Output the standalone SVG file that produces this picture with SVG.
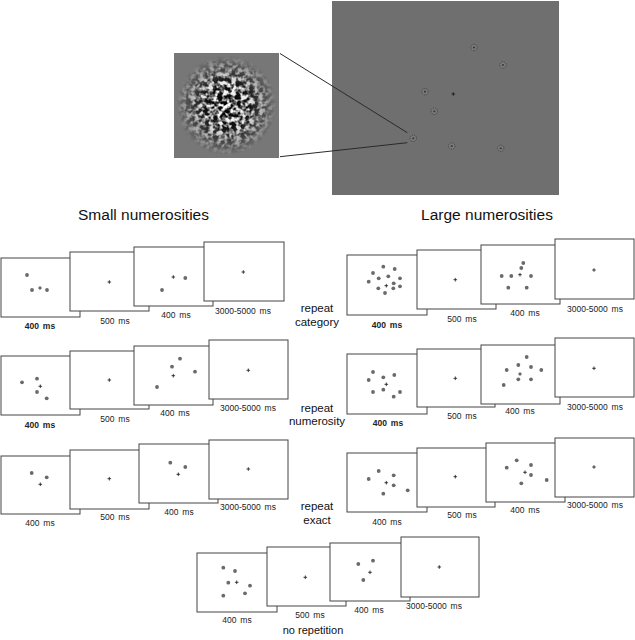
<svg xmlns="http://www.w3.org/2000/svg" xmlns:xlink="http://www.w3.org/1999/xlink" width="635" height="640" viewBox="0 0 635 640">
<style>
.fr{fill:#fff;stroke:#444;stroke-width:1}
.dt{fill:#6a6a6a}
.fx{stroke:#111;stroke-width:0.8;fill:none}
.lb{font-family:"Liberation Sans",Arial,sans-serif;font-size:8.5px;fill:#222;text-anchor:middle;word-spacing:1.5px}
.lbb{font-weight:bold}
.cond{font-family:"Liberation Sans",Arial,sans-serif;font-size:11.5px;fill:#111;text-anchor:middle}
.hd{font-family:"Liberation Sans",Arial,sans-serif;font-size:15.5px;fill:#111;text-anchor:middle}
.con{stroke:#2a2a2a;stroke-width:1;fill:none}
</style>
<defs>
<path id="x" class="fx" d="M-1.8,0H1.8M0,-1.8V1.8"/>
<circle id="d" class="dt" r="1.9"/>
<g id="blob">
<circle r="3.2" fill="#7a7a7a" stroke="#3a3a3a" stroke-width="0.8" stroke-dasharray="1.3 0.9"/>
<circle r="1.1" fill="#3a3a3a"/>
</g>
<radialGradient id="fade" cx="0.5" cy="0.5" r="0.5">
<stop offset="0" stop-color="#fff" stop-opacity="1"/>
<stop offset="0.45" stop-color="#fff" stop-opacity="0.85"/>
<stop offset="1" stop-color="#fff" stop-opacity="0"/>
</radialGradient>
<filter id="noise" x="174" y="53" width="105" height="105" filterUnits="userSpaceOnUse" color-interpolation-filters="sRGB">
<feTurbulence type="fractalNoise" baseFrequency="0.22" numOctaves="2" seed="11" result="n"/>
<feColorMatrix in="n" type="matrix" values="3.4 0 0 0 -1.28  3.4 0 0 0 -1.28  3.4 0 0 0 -1.28  0 0 0 0 1" result="g"/>
<feComposite in="g" in2="SourceGraphic" operator="in"/>
</filter>
</defs>

<g id="stimulus-display">
<rect x="332" y="1" width="227" height="194" fill="#6f6f6f"/>
<use href="#blob" x="474" y="47.5"/>
<use href="#blob" x="503" y="65"/>
<use href="#blob" x="425" y="91.7"/>
<use href="#blob" x="434.3" y="111.3"/>
<use href="#blob" x="413.3" y="138.3"/>
<use href="#blob" x="451.7" y="146"/>
<use href="#blob" x="500.7" y="148.3"/>
<use href="#x" x="453.3" y="94"/>
</g>

<g id="patch-inset">
<rect x="174" y="53" width="105" height="105" fill="#777"/>
<circle cx="226.5" cy="105.5" r="50" fill="url(#fade)" filter="url(#noise)"/>
</g>

<g id="connectors">
<line class="con" x1="280" y1="53.5" x2="407.3" y2="132.7"/>
<line class="con" x1="280" y1="156.7" x2="407.3" y2="142.7"/>
</g>

<g id="headings">
<text class="hd" x="143.5" y="219.5">Small numerosities</text>
<text class="hd" x="487" y="219.5">Large numerosities</text>
</g>

<g id="condition-labels">
<text class="cond" x="317" y="312">repeat</text>
<text class="cond" x="317" y="326">category</text>
<text class="cond" x="317" y="412">repeat</text>
<text class="cond" x="317" y="425">numerosity</text>
<text class="cond" x="317" y="510">repeat</text>
<text class="cond" x="317" y="524">exact</text>
<text class="cond" x="313" y="634" style="font-size:11px">no repetition</text>
</g>

<!-- Small, repeat category -->
<g id="small-category">
<g id="sc-f1"><rect class="fr" x="1" y="258" width="79" height="59"/>
<use href="#d" x="27" y="275"/><use href="#d" x="32" y="290"/><use href="#d" x="47" y="290"/><use href="#x" x="40" y="288"/></g>
<g id="sc-f2"><rect class="fr" x="70" y="252" width="79" height="59"/><use href="#x" x="109.3" y="282"/></g>
<g id="sc-f3"><rect class="fr" x="134" y="247" width="79" height="59"/>
<use href="#d" x="162" y="290"/><use href="#d" x="185.3" y="278"/><use href="#x" x="173.3" y="277"/></g>
<g id="sc-f4"><rect class="fr" x="204" y="242" width="80" height="59"/><use href="#x" x="243.3" y="272"/></g>
<text class="lb lbb" x="40" y="329">400 ms</text>
<text class="lb" x="115" y="324">500 ms</text>
<text class="lb" x="176" y="318">400 ms</text>
<text class="lb" x="243" y="314">3000-5000 ms</text>
</g>

<!-- Small, repeat numerosity -->
<g id="small-numerosity">
<g id="sn-f1"><rect class="fr" x="1" y="356" width="79" height="59"/>
<use href="#d" x="22" y="382.3"/><use href="#d" x="37" y="378.7"/><use href="#d" x="37" y="392"/><use href="#d" x="46.7" y="398.3"/><use href="#x" x="40.3" y="386.3"/></g>
<g id="sn-f2"><rect class="fr" x="70" y="351" width="79" height="58"/><use href="#x" x="109.3" y="380"/></g>
<g id="sn-f3"><rect class="fr" x="134" y="346" width="79" height="59"/>
<use href="#d" x="180" y="358.7"/><use href="#d" x="172" y="366.7"/><use href="#d" x="195" y="371.7"/><use href="#d" x="157" y="387"/><use href="#x" x="173.3" y="375.7"/></g>
<g id="sn-f4"><rect class="fr" x="209" y="340" width="79" height="59"/><use href="#x" x="248.3" y="370.3"/></g>
<text class="lb lbb" x="40" y="428">400 ms</text>
<text class="lb" x="115" y="422">500 ms</text>
<text class="lb" x="175" y="416">400 ms</text>
<text class="lb" x="248" y="411">3000-5000 ms</text>
</g>

<!-- Small, repeat exact -->
<g id="small-exact">
<g id="se-f1"><rect class="fr" x="1" y="456" width="79" height="58"/>
<use href="#d" x="31.7" y="473"/><use href="#d" x="46.7" y="477.3"/><use href="#x" x="40.3" y="484.3"/></g>
<g id="se-f2"><rect class="fr" x="70" y="450" width="79" height="59"/><use href="#x" x="109.3" y="478.7"/></g>
<g id="se-f3"><rect class="fr" x="139" y="444" width="79" height="59"/>
<use href="#d" x="170.3" y="462.7"/><use href="#d" x="185.3" y="467"/><use href="#x" x="178.3" y="474.3"/></g>
<g id="se-f4"><rect class="fr" x="209" y="440" width="79" height="59"/><use href="#x" x="248.3" y="469"/></g>
<text class="lb" x="40" y="526">400 ms</text>
<text class="lb" x="115" y="520">500 ms</text>
<text class="lb" x="179" y="515">400 ms</text>
<text class="lb" x="248" y="510">3000-5000 ms</text>
</g>

<!-- Large, repeat category -->
<g id="large-category">
<g id="lc-f1"><rect class="fr" x="347" y="255" width="80" height="60"/>
<use href="#d" x="383.3" y="266.7"/><use href="#d" x="394.7" y="269"/><use href="#d" x="373" y="273"/><use href="#d" x="388.3" y="276.3"/>
<use href="#d" x="378.7" y="278.3"/><use href="#d" x="400" y="278.3"/><use href="#d" x="368.7" y="281.7"/><use href="#d" x="393.7" y="283.3"/>
<use href="#d" x="378.3" y="288.3"/><use href="#d" x="393.3" y="288.3"/><use href="#d" x="400" y="286.3"/><use href="#d" x="385" y="293"/>
<use href="#x" x="386.3" y="285.7"/></g>
<g id="lc-f2"><rect class="fr" x="417" y="250" width="79" height="59"/><use href="#x" x="455.3" y="279.7"/></g>
<g id="lc-f3"><rect class="fr" x="481" y="245" width="79" height="59"/>
<use href="#d" x="523.3" y="263"/><use href="#d" x="521.3" y="268"/><use href="#d" x="501.7" y="276"/><use href="#d" x="511.3" y="276"/>
<use href="#d" x="531" y="276"/><use href="#d" x="508.3" y="287.7"/><use href="#d" x="526.7" y="287.7"/><use href="#x" x="520" y="274.7"/></g>
<g id="lc-f4"><rect class="fr" x="555" y="239" width="79" height="60"/><use href="#x" x="594" y="270"/></g>
<text class="lb lbb" x="387" y="328">400 ms</text>
<text class="lb" x="462" y="322">500 ms</text>
<text class="lb" x="525" y="316">400 ms</text>
<text class="lb" x="595" y="312">3000-5000 ms</text>
</g>

<!-- Large, repeat numerosity -->
<g id="large-numerosity">
<g id="ln-f1"><rect class="fr" x="347" y="354" width="80" height="60"/>
<use href="#d" x="373" y="372"/><use href="#d" x="394.3" y="375"/><use href="#d" x="368.7" y="380"/><use href="#d" x="383.3" y="377.3"/>
<use href="#d" x="383.3" y="389.7"/><use href="#d" x="373" y="392"/><use href="#d" x="400" y="392"/><use href="#d" x="393.7" y="396.7"/>
<use href="#x" x="386.3" y="384.3"/></g>
<g id="ln-f2"><rect class="fr" x="417" y="349" width="78" height="58"/><use href="#x" x="455.3" y="378.3"/></g>
<g id="ln-f3"><rect class="fr" x="481" y="345" width="79" height="59"/>
<use href="#d" x="526.7" y="357"/><use href="#d" x="518.3" y="365"/><use href="#d" x="531" y="367"/><use href="#d" x="506.7" y="370"/>
<use href="#d" x="541.3" y="370"/><use href="#d" x="518.3" y="379.3"/><use href="#d" x="531" y="379.3"/><use href="#d" x="503.7" y="385"/>
<use href="#x" x="520" y="374"/></g>
<g id="ln-f4"><rect class="fr" x="555" y="338" width="79" height="59"/><use href="#x" x="594" y="368.3"/></g>
<text class="lb lbb" x="388" y="426">400 ms</text>
<text class="lb" x="462" y="419">500 ms</text>
<text class="lb" x="520" y="414">400 ms</text>
<text class="lb" x="595" y="410">3000-5000 ms</text>
</g>

<!-- Large, repeat exact -->
<g id="large-exact">
<g id="le-f1"><rect class="fr" x="347" y="453" width="80" height="59"/>
<use href="#d" x="378.7" y="471"/><use href="#d" x="368.7" y="479"/><use href="#d" x="393.7" y="475.3"/><use href="#d" x="393.7" y="485.3"/>
<use href="#d" x="407.7" y="490.3"/><use href="#d" x="383.3" y="493.7"/><use href="#x" x="386.3" y="482.7"/></g>
<g id="le-f2"><rect class="fr" x="417" y="448" width="78" height="59"/><use href="#x" x="455.3" y="476.7"/></g>
<g id="le-f3"><rect class="fr" x="486" y="443" width="79" height="59"/>
<use href="#d" x="516.7" y="460.3"/><use href="#d" x="506.7" y="467.7"/><use href="#d" x="531" y="465"/><use href="#d" x="531" y="475"/>
<use href="#d" x="546.7" y="480"/><use href="#d" x="521.3" y="483.3"/><use href="#x" x="525" y="472.3"/></g>
<g id="le-f4"><rect class="fr" x="555" y="438" width="79" height="59"/><use href="#x" x="594" y="467"/></g>
<text class="lb" x="387" y="525">400 ms</text>
<text class="lb" x="462" y="518">500 ms</text>
<text class="lb" x="525" y="513">400 ms</text>
<text class="lb" x="595" y="508">3000-5000 ms</text>
</g>

<!-- No repetition -->
<g id="no-repetition">
<g id="nr-f1"><rect class="fr" x="197" y="553" width="80" height="59"/>
<use href="#d" x="223.3" y="567.7"/><use href="#d" x="235" y="571"/><use href="#d" x="228.3" y="582.7"/><use href="#d" x="250" y="585.7"/>
<use href="#d" x="245" y="593.3"/><use href="#d" x="223.3" y="595.7"/><use href="#x" x="236.7" y="582.3"/></g>
<g id="nr-f2"><rect class="fr" x="267" y="547" width="79" height="59"/><use href="#x" x="305.3" y="577.3"/></g>
<g id="nr-f3"><rect class="fr" x="330" y="543" width="80" height="58"/>
<use href="#d" x="358.3" y="564"/><use href="#d" x="373" y="560.7"/><use href="#d" x="363.3" y="580"/><use href="#x" x="370" y="572.3"/></g>
<g id="nr-f4"><rect class="fr" x="401" y="537" width="78" height="60"/><use href="#x" x="439.3" y="567"/></g>
<text class="lb" x="237" y="623">400 ms</text>
<text class="lb" x="310" y="618">500 ms</text>
<text class="lb" x="369" y="613">400 ms</text>
<text class="lb" x="434" y="609">3000-5000 ms</text>
</g>
</svg>
